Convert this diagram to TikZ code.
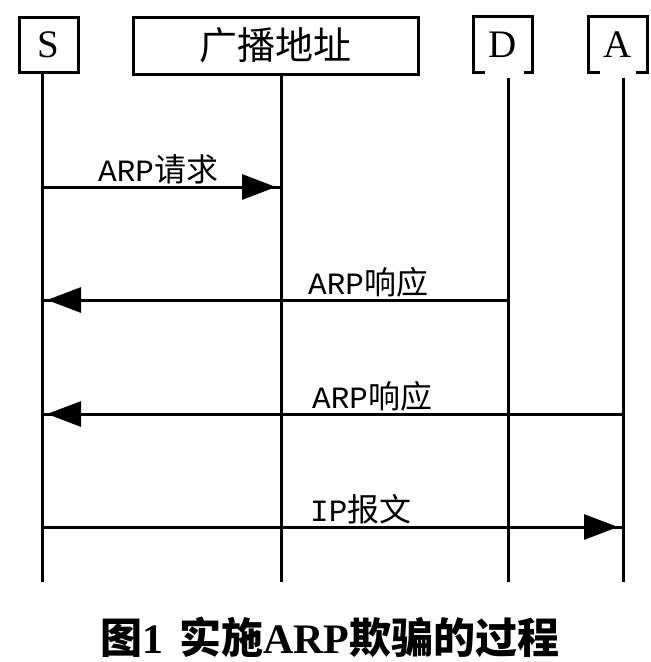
\documentclass[tikz,border=0pt]{standalone}
\usepackage{fontspec}
\setmainfont{Liberation Serif}
\newfontfamily\cjk{Noto Sans CJK SC}
\newfontfamily\monof{Liberation Mono}
\usetikzlibrary{arrows.meta,decorations.markings}
\newcommand\msglabel[2]{{\monof\fontsize{31}{31}\selectfont #1}{\cjk\fontsize{32}{32}\selectfont #2}}
\tikzset{
  actor/.style={draw=black, line width=3pt, inner sep=0pt, font=\fontsize{39}{40}\selectfont},
  bracketactor/.style={inner sep=0pt, font=\fontsize{39}{40}\selectfont},
  frame/.style={line width=3pt, line cap=rect},
  life/.style={line width=3pt},
  msg/.style={line width=3pt, postaction={decorate},
    decoration={markings, mark=at position -5pt with {\arrow{Triangle[length=34pt,width=25pt]}}}},
  lbl/.style={inner sep=0pt, anchor=base west},
}
\begin{document}
\begin{tikzpicture}[x=1pt,y=-1pt]
\useasboundingbox (0,0) rectangle (651,662);
% actor boxes
\node[actor, minimum width=59pt, minimum height=55pt] (S) at (48.5,44.5) {S};
\node[actor, minimum width=285pt, minimum height=57pt] (B) at (275.5,45.5) {\cjk\fontsize{38}{40}\selectfont 广播地址};
\node[bracketactor, minimum width=58pt, minimum height=55pt] (D) at (503,44.5) {D};
\node[bracketactor, minimum width=58pt, minimum height=55pt] (A) at (618,44.5) {A};
\draw[frame] ([xshift=10pt]D.south west) -- (D.south west) -- (D.north west) -- (D.north east) -- (D.south east) -- ([xshift=-7pt]D.south east);
\draw[frame] ([xshift=10pt]A.south west) -- (A.south west) -- (A.north west) -- (A.north east) -- (A.south east) -- ([xshift=-10pt]A.south east);
% lifelines
\coordinate (sT) at (42,72);  \coordinate (sE) at (42,582);
\coordinate (bT) at (281,74); \coordinate (bE) at (281,582);
\coordinate (dT) at (508,78); \coordinate (dE) at (508,582);
\coordinate (aT) at (623,78); \coordinate (aE) at (623,582);
\draw[life] (sT) -- (sE);
\draw[life] (bT) -- (bE);
\draw[life] (dT) -- (dE);
\draw[life] (aT) -- (aE);
% messages
\coordinate (s1) at (42,187);  \coordinate (b1) at (281,187);
\coordinate (d2) at (508,300); \coordinate (s2) at (42,300);
\coordinate (a3) at (623,414); \coordinate (s3) at (42,414);
\coordinate (s4) at (42,527);  \coordinate (a4) at (623,527);
\draw[msg] (s1) -- (b1);
\draw[msg] (d2) -- (s2);
\draw[msg] (a3) -- (s3);
\draw[msg] (s4) -- (a4);
\node[lbl] (l1) at (98,181) {\msglabel{ARP}{请求}};
\node[lbl] (l2) at (308,294) {\msglabel{ARP}{响应}};
\node[lbl] (l3) at (312,408) {\msglabel{ARP}{响应}};
\node[lbl] (l4) at (310,521) {\msglabel{IP}{报文}};
% caption
\node[inner sep=0pt] (cap) at (330,637) {\bfseries\fontsize{42}{46}\selectfont{\cjk 图}1\hspace{16pt}{\cjk 实施}ARP{\cjk 欺骗的过程}};
\end{tikzpicture}
\end{document}
